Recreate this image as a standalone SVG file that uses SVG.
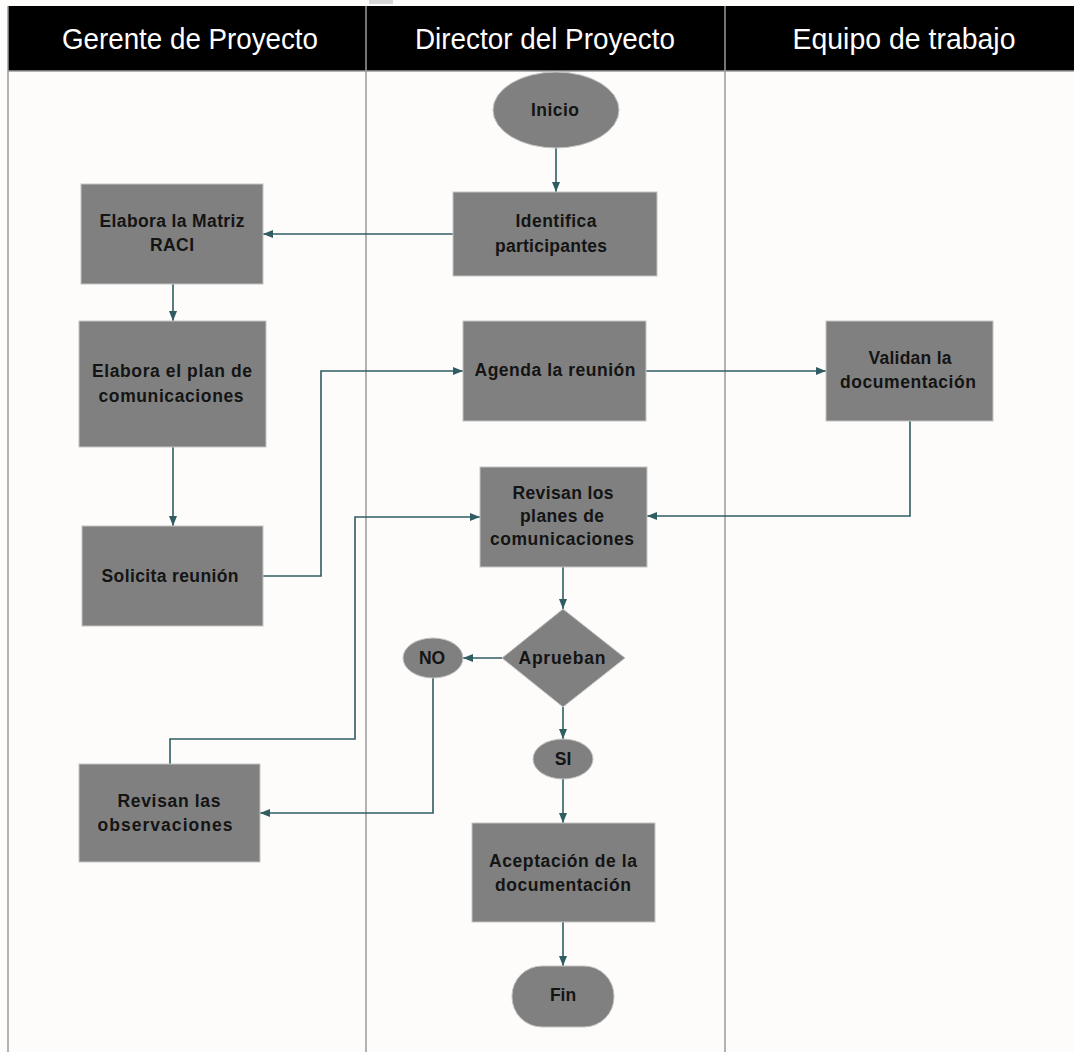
<svg xmlns="http://www.w3.org/2000/svg" width="1074" height="1052" viewBox="0 0 1074 1052">
<style>
.bg{fill:#fdfcfa}
.lane{stroke:#9a9a9a;stroke-width:1.5;fill:none}
.hdr{fill:#000}
.ht{font-family:"Liberation Sans Narrow","Liberation Sans",Arial,sans-serif;font-size:29px;fill:#fff;text-anchor:middle}
.n{fill:#808080;stroke:#c4c4c4;stroke-width:1}
.t{font-family:"Liberation Sans",Arial,sans-serif;font-size:17.5px;font-weight:bold;fill:#141414;text-anchor:middle}
.c{stroke:#2f5d62;stroke-width:1.6;fill:none;marker-end:url(#ah)}
</style>
<defs>
<marker id="ah" viewBox="0 0 10 8" refX="10" refY="4" markerWidth="10" markerHeight="8" markerUnits="userSpaceOnUse" orient="auto">
<path d="M0,0 L10,4 L0,8 Z" fill="#2f5d62"/>
</marker>
</defs>
<rect class="bg" x="0" y="0" width="1074" height="1052"/>
<rect x="369" y="0" width="24" height="4" fill="#d6d6d6"/>
<g id="header">
<rect class="hdr" x="8" y="6" width="1066" height="65"/>
<line x1="8" y1="71" x2="1074" y2="71" stroke="#9a9a9a" stroke-width="1.5"/>
<text class="ht" x="190" y="49" textLength="256" lengthAdjust="spacingAndGlyphs">Gerente de Proyecto</text>
<text class="ht" x="545" y="49" textLength="260" lengthAdjust="spacingAndGlyphs">Director del Proyecto</text>
<text class="ht" x="904" y="49" textLength="223" lengthAdjust="spacingAndGlyphs">Equipo de trabajo</text>
</g>
<g id="lanes">
<line class="lane" x1="8" y1="6" x2="8" y2="1052"/>
<line class="lane" x1="366" y1="6" x2="366" y2="1052"/>
<line class="lane" x1="725" y1="6" x2="725" y2="1052"/>
</g>
<g id="connectors">
<path class="c" d="M556,148 L556,192"/>
<path class="c" d="M453,234 L263,234"/>
<path class="c" d="M173,284 L173,321"/>
<path class="c" d="M173,447 L173,526"/>
<path class="c" d="M263,576 L321,576 L321,371 L463,371"/>
<path class="c" d="M646,371 L826,371"/>
<path class="c" d="M910,421 L910,516 L647,516"/>
<path class="c" d="M563,567 L563,609"/>
<path class="c" d="M502,658 L463,658"/>
<path class="c" d="M563,707 L563,739"/>
<path class="c" d="M563,779 L563,823"/>
<path class="c" d="M563,922 L563,966"/>
<path class="c" d="M433,678 L433,813 L260,813"/>
<path class="c" d="M170,764 L170,739 L355,739 L355,517 L480,517"/>
</g>
<g id="inicio">
<ellipse class="n" cx="556" cy="110" rx="63" ry="38"/>
<text class="t" x="555" y="116" textLength="48" lengthAdjust="spacing">Inicio</text>
</g>
<g id="identifica">
<rect class="n" x="453" y="192" width="204" height="84"/>
<text class="t" x="556" y="227" textLength="81" lengthAdjust="spacing">Identifica</text>
<text class="t" x="551" y="252" textLength="112" lengthAdjust="spacing">participantes</text>
</g>
<g id="matriz">
<rect class="n" x="81" y="184" width="182" height="100"/>
<text class="t" x="172" y="227" textLength="145" lengthAdjust="spacing">Elabora la Matriz</text>
<text class="t" x="172" y="251" textLength="44" lengthAdjust="spacing">RACI</text>
</g>
<g id="plan">
<rect class="n" x="79" y="321" width="187" height="126"/>
<text class="t" x="172" y="377" textLength="160" lengthAdjust="spacing">Elabora el plan de</text>
<text class="t" x="171" y="402" textLength="145" lengthAdjust="spacing">comunicaciones</text>
</g>
<g id="solicita">
<rect class="n" x="82" y="526" width="181" height="100"/>
<text class="t" x="170" y="582" textLength="137" lengthAdjust="spacing">Solicita reunión</text>
</g>
<g id="agenda">
<rect class="n" x="463" y="321" width="183" height="100"/>
<text class="t" x="555" y="376" textLength="161" lengthAdjust="spacing">Agenda la reunión</text>
</g>
<g id="validan">
<rect class="n" x="826" y="321" width="167" height="100"/>
<text class="t" x="910" y="364" textLength="83" lengthAdjust="spacing">Validan la</text>
<text class="t" x="908" y="388" textLength="136" lengthAdjust="spacing">documentación</text>
</g>
<g id="revisan-planes">
<rect class="n" x="480" y="467" width="167" height="100"/>
<text class="t" x="563" y="499" textLength="101" lengthAdjust="spacing">Revisan los</text>
<text class="t" x="562" y="522" textLength="84" lengthAdjust="spacing">planes de</text>
<text class="t" x="562" y="545" textLength="144" lengthAdjust="spacing">comunicaciones</text>
</g>
<g id="aprueban">
<polygon class="n" points="563,609 625,658 563,707 502,658"/>
<text class="t" x="562" y="664" textLength="87" lengthAdjust="spacing">Aprueban</text>
</g>
<g id="no">
<ellipse class="n" cx="433" cy="658" rx="30" ry="20"/>
<text class="t" x="432" y="664">NO</text>
</g>
<g id="si">
<ellipse class="n" cx="563" cy="759" rx="30" ry="20"/>
<text class="t" x="563" y="765">SI</text>
</g>
<g id="observaciones">
<rect class="n" x="79" y="764" width="181" height="98"/>
<text class="t" x="169" y="807" textLength="103" lengthAdjust="spacing">Revisan las</text>
<text class="t" x="165" y="831" textLength="135" lengthAdjust="spacing">observaciones</text>
</g>
<g id="aceptacion">
<rect class="n" x="472" y="823" width="183" height="99"/>
<text class="t" x="563" y="867" textLength="148" lengthAdjust="spacing">Aceptación de la</text>
<text class="t" x="563" y="891" textLength="136" lengthAdjust="spacing">documentación</text>
</g>
<g id="fin">
<rect class="n" x="512" y="966" width="102" height="61" rx="30" ry="30"/>
<text class="t" x="563" y="1001">Fin</text>
</g>
</svg>
